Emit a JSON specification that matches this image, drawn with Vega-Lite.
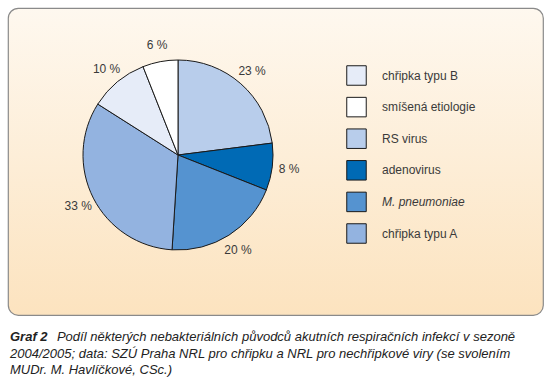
{
  "$schema": "https://vega.github.io/schema/vega-lite/v6.json",
  "width": 535,
  "height": 307,
  "autosize": {"type": "none"},
  "padding": {"left": 8, "top": 8, "right": 8, "bottom": 64},
  "background": "#ffffff",
  "view": {
    "fill": {
      "gradient": "linear",
      "x1": 0, "y1": 0, "x2": 0, "y2": 1,
      "stops": [
        {"offset": 0, "color": "#FEF8EF"},
        {"offset": 1, "color": "#FCE3BF"}
      ]
    },
    "stroke": "#8a8a8a",
    "strokeWidth": 1.2,
    "cornerRadius": 10
  },
  "title": {
    "text": "Graf 2",
    "subtitle": [
      "\u200b\u00a0\u00a0\u00a0\u00a0\u00a0\u00a0\u00a0\u00a0\u00a0\u00a0\u00a0\u00a0\u00a0Podíl některých nebakteriálních původců akutních respiračních infekcí v sezoně",
      "2004/2005; data: SZÚ Praha NRL pro chřipku a NRL pro nechřipkové viry (se svolením",
      "MUDr. M. Havlíčkové, CSc.)"
    ],
    "orient": "bottom",
    "anchor": "start",
    "frame": "group",
    "offset": 16,
    "dx": 2,
    "font": "Liberation Sans",
    "fontSize": 13,
    "fontWeight": "bold",
    "fontStyle": "italic",
    "color": "#222222",
    "subtitleFont": "Liberation Sans",
    "subtitleFontSize": 13,
    "subtitleFontStyle": "italic",
    "subtitleFontWeight": "normal",
    "subtitleColor": "#222222",
    "subtitleLineHeight": 16.5,
    "subtitlePadding": -13
  },
  "data": {
    "values": [
      {"category": "RS virus", "value": 23, "order": 1, "label": "23 %"},
      {"category": "adenovirus", "value": 8, "order": 2, "label": "8 %"},
      {"category": "M. pneumoniae", "value": 20, "order": 3, "label": "20 %"},
      {"category": "chřipka typu A", "value": 33, "order": 4, "label": "33 %"},
      {"category": "chřipka typu B", "value": 10, "order": 5, "label": "10 %"},
      {"category": "smíšená etiologie", "value": 6, "order": 6, "label": "6 %"}
    ]
  },
  "encoding": {
    "theta": {"field": "value", "type": "quantitative", "stack": true},
    "order": {"field": "order", "type": "quantitative", "sort": "ascending"}
  },
  "layer": [
    {
      "mark": {"type": "arc", "x": 170, "y": 147, "outerRadius": 95, "stroke": "#1a1a1a", "strokeWidth": 1},
      "encoding": {
        "color": {
          "field": "category",
          "type": "nominal",
          "scale": {
            "domain": ["chřipka typu B", "smíšená etiologie", "RS virus", "adenovirus", "M. pneumoniae", "chřipka typu A"],
            "range": ["#E6ECF8", "#FFFFFF", "#B8CDEB", "#006AB5", "#5593D0", "#93B3E0"]
          },
          "legend": {
            "title": null,
            "orient": "none",
            "legendX": 338,
            "legendY": 57,
            "padding": 0,
            "symbolType": "square",
            "symbolSize": 380,
            "symbolStrokeColor": "#1a1a1a",
            "symbolStrokeWidth": 1,
            "symbolOpacity": 1,
            "rowPadding": 6.6,
            "labelOffset": 15,
            "labelFont": "Liberation Sans",
            "labelFontSize": 12,
            "labelColor": "#3a3a3a",
            "labelLimit": 300,
            "encode": {
              "labels": {
                "update": {
                  "fontStyle": {"signal": "datum.label === 'M. pneumoniae' ? 'italic' : 'normal'"}
                }
              }
            }
          }
        }
      }
    },
    {
      "mark": {"type": "text", "x": 170, "y": 147, "radius": 112, "font": "Liberation Sans", "fontSize": 12, "color": "#3a3a3a", "align": "center", "baseline": "middle"},
      "encoding": {
        "text": {"field": "label", "type": "nominal"}
      }
    }
  ]
}
